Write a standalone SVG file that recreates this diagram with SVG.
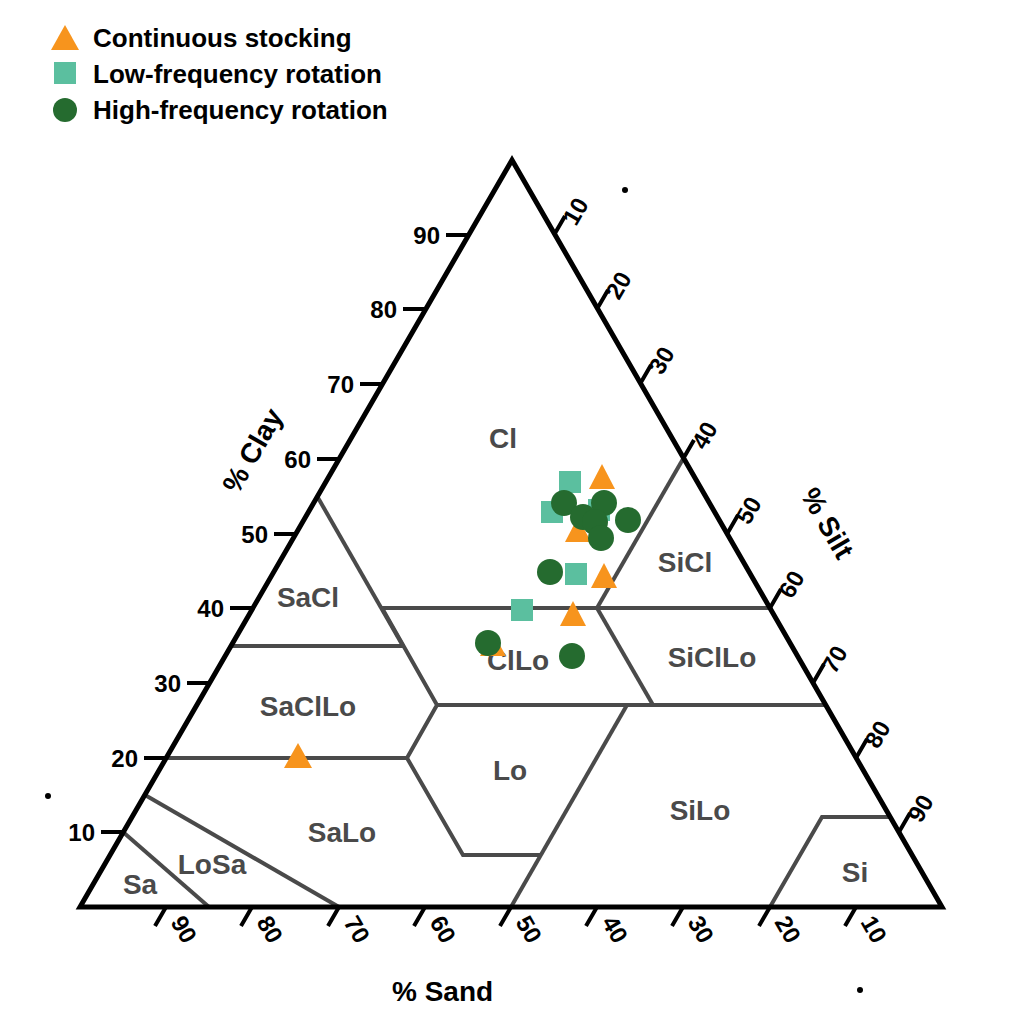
<svg xmlns="http://www.w3.org/2000/svg" width="1024" height="1024" viewBox="0 0 1024 1024">
<style>
text{font-family:"Liberation Sans",Arial,sans-serif;font-weight:bold}
.tk{stroke:#000;stroke-width:4;fill:none}
.n{font-size:24px;fill:#000}
.b{stroke:#4a4a4a;stroke-width:4;fill:none}
.c{font-size:28px;fill:#4a4a4a;text-anchor:middle}
.tri{fill:#F7941D}.sq{fill:#5BBF9F}.ci{fill:#256B2F}
</style>
<rect width="1024" height="1024" fill="#fff"/>
<g id="legend">
<polygon class="tri" points="65,25 51,50 79,50"/><text x="93" y="47" font-size="26">Continuous stocking</text>
<rect class="sq" x="54" y="62" width="22" height="22"/><text x="93" y="83" font-size="26">Low-frequency rotation</text>
<circle class="ci" cx="65" cy="110" r="12"/><text x="93" y="119" font-size="26">High-frequency rotation</text>
</g>
<g id="boundaries">
<polyline class="b" points="317,496 403,646"/>
<line class="b" x1="231" y1="646" x2="403" y2="646"/>
<line class="b" x1="382" y1="608" x2="769" y2="608"/>
<line class="b" x1="683" y1="459" x2="597" y2="608"/>
<line class="b" x1="597" y1="608" x2="653" y2="705"/>
<line class="b" x1="437" y1="705" x2="825" y2="705"/>
<polyline class="b" points="382,608 437,705 407,758 463,855 541,855"/>
<line class="b" x1="166" y1="758" x2="407" y2="758"/>
<line class="b" x1="627" y1="705" x2="511" y2="907"/>
<polyline class="b" points="770,907 822,817 890,817"/>
<line class="b" x1="123" y1="832" x2="209" y2="907"/>
<line class="b" x1="145" y1="795" x2="339" y2="907"/>
</g>
<g id="labels">
<text class="c" x="503" y="448">Cl</text>
<text class="c" x="308" y="607">SaCl</text>
<text class="c" x="685" y="572">SiCl</text>
<text class="c" x="518" y="670">ClLo</text>
<text class="c" x="712" y="667">SiClLo</text>
<text class="c" x="308" y="716">SaClLo</text>
<text class="c" x="510" y="780">Lo</text>
<text class="c" x="700" y="820">SiLo</text>
<text class="c" x="342" y="842">SaLo</text>
<text class="c" x="212" y="874">LoSa</text>
<text class="c" x="140" y="894">Sa</text>
<text class="c" x="855" y="882">Si</text>
</g>
<g id="frame">
<polygon points="80,907 942,907 512,160" fill="none" stroke="#000" stroke-width="5" stroke-linejoin="miter"/>
</g>
<g id="ticks">
<path class="tk" d="M123,832h-22M166,758h-22M209,683h-22M252,608h-22M296,534h-22M339,459h-22M382,384h-22M425,309h-22M468,235h-22"/>
<g class="n" text-anchor="end">
<text x="95" y="841">10</text><text x="138" y="767">20</text><text x="181" y="692">30</text><text x="224" y="617">40</text><text x="268" y="543">50</text><text x="311" y="468">60</text><text x="354" y="393">70</text><text x="397" y="318">80</text><text x="440" y="244">90</text>
</g>
<path class="tk" d="M554,235l11,-19M597,309l11,-19M640,384l11,-19M683,459l11,-19M727,534l11,-19M770,608l11,-19M813,683l11,-19M856,758l11,-19M899,832l11,-19"/>
<g class="n">
<text transform="translate(576,227) rotate(-60)">10</text>
<text transform="translate(619,301) rotate(-60)">20</text>
<text transform="translate(662,376) rotate(-60)">30</text>
<text transform="translate(705,451) rotate(-60)">40</text>
<text transform="translate(749,526) rotate(-60)">50</text>
<text transform="translate(792,600) rotate(-60)">60</text>
<text transform="translate(835,675) rotate(-60)">70</text>
<text transform="translate(878,750) rotate(-60)">80</text>
<text transform="translate(921,824) rotate(-60)">90</text>
</g>
<path class="tk" d="M166,907l-11,19M252,907l-11,19M339,907l-11,19M425,907l-11,19M511,907l-11,19M597,907l-11,19M683,907l-11,19M770,907l-11,19M856,907l-11,19"/>
<g class="n">
<text transform="translate(170,922) rotate(60)">90</text>
<text transform="translate(256,922) rotate(60)">80</text>
<text transform="translate(343,922) rotate(60)">70</text>
<text transform="translate(429,922) rotate(60)">60</text>
<text transform="translate(515,922) rotate(60)">50</text>
<text transform="translate(601,922) rotate(60)">40</text>
<text transform="translate(687,922) rotate(60)">30</text>
<text transform="translate(774,922) rotate(60)">20</text>
<text transform="translate(860,922) rotate(60)">10</text>
</g>
</g>
<g id="axis-titles" font-size="28">
<text transform="translate(238,495) rotate(-60)">% Clay</text>
<text transform="translate(800,495) rotate(60)">% Silt</text>
<text x="392" y="1001">% Sand</text>
</g>
<g id="data">
<polygon class="tri" points="493,633 480,656 506,656"/>
<circle class="ci" cx="488" cy="643" r="13"/>
<rect class="sq" x="559" y="471" width="22" height="22"/>
<rect class="sq" x="541" y="501" width="22" height="22"/>
<rect class="sq" x="588" y="499" width="22" height="22"/>
<rect class="sq" x="565" y="563" width="22" height="22"/>
<rect class="sq" x="511" y="599" width="22" height="22"/>
<polygon class="tri" points="602,464 589,489 615,489"/>
<polygon class="tri" points="578,517 565,542 591,542"/>
<polygon class="tri" points="604,563 591,588 617,588"/>
<polygon class="tri" points="573,601 560,626 586,626"/>
<polygon class="tri" points="298,743 284,768 312,768"/>
<circle class="ci" cx="564" cy="503" r="13"/>
<circle class="ci" cx="604" cy="503" r="13"/>
<circle class="ci" cx="583" cy="517" r="13"/>
<circle class="ci" cx="595" cy="522" r="13"/>
<circle class="ci" cx="628" cy="520" r="13"/>
<circle class="ci" cx="601" cy="538" r="13"/>
<circle class="ci" cx="550" cy="572" r="13"/>
<circle class="ci" cx="572" cy="656" r="13"/>
</g>
<g id="dots" fill="#000">
<circle cx="625" cy="190" r="3"/><circle cx="48" cy="796" r="3"/><circle cx="860" cy="990" r="3"/>
</g>
</svg>
